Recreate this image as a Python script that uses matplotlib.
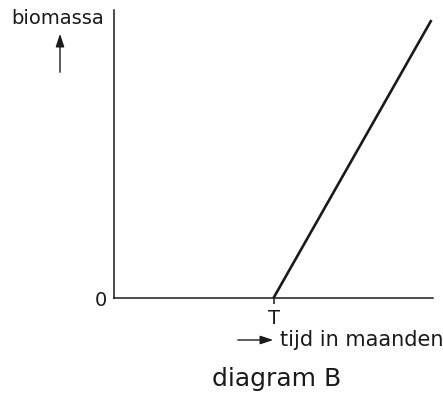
import matplotlib
matplotlib.use('Agg')
import matplotlib.pyplot as plt

# data: biomass starts growing at time T
x_vals = [5.0, 9.95]
y_vals = [0.0, 9.65]
t_tick = [5.0]
t_labels = ['T']

plt.rcParams['font.family'] = ['DejaVu Sans']

fig = plt.figure(figsize=(4.43, 3.96), dpi=100)
ax = fig.add_axes([114 / 443, 1 - 298 / 396, (433 - 114) / 443, 288 / 396])

ax.plot(x_vals, y_vals, color='#1a1a1a', linewidth=1.9, solid_capstyle='butt')
ax.set_xlim(0, 10)
ax.set_ylim(0, 10)

for s in ['top', 'right']:
    ax.spines[s].set_visible(False)
for s in ['left', 'bottom']:
    ax.spines[s].set_linewidth(1.1)
    ax.spines[s].set_color('#1a1a1a')

ax.set_xticks(t_tick)
ax.set_xticklabels(t_labels, fontsize=14)
ax.tick_params(axis='x', direction='out', length=4, width=1.1, pad=4, colors='#1a1a1a')
ax.set_yticks([0])
ax.set_yticklabels(['0'], fontsize=14)
ax.tick_params(axis='y', length=0, pad=5, colors='#1a1a1a')

# axis labels with arrows
fig.text(11 / 443, 1 - 18 / 396, 'biomassa', fontsize=14, va='center', ha='left', color='#1a1a1a')
fig.add_artist(matplotlib.patches.FancyArrowPatch(
    (60 / 443, 1 - 75 / 396), (60 / 443, 1 - 31 / 396), transform=fig.transFigure,
    arrowstyle='-|>,head_length=6,head_width=2', mutation_scale=1.3, color='#1a1a1a', lw=1))

fig.add_artist(matplotlib.patches.FancyArrowPatch(
    (235 / 443, 1 - 340 / 396), (276 / 443, 1 - 340 / 396), transform=fig.transFigure,
    arrowstyle='-|>,head_length=6,head_width=2', mutation_scale=1.3, color='#1a1a1a', lw=1))
fig.text(280 / 443, 1 - 340 / 396, 'tijd in maanden', fontsize=15, va='center', ha='left', color='#1a1a1a')

fig.text(277 / 443, 1 - 379 / 396, 'diagram B', fontsize=18, va='center', ha='center', color='#1a1a1a')

fig.savefig('out.png', dpi=100)
